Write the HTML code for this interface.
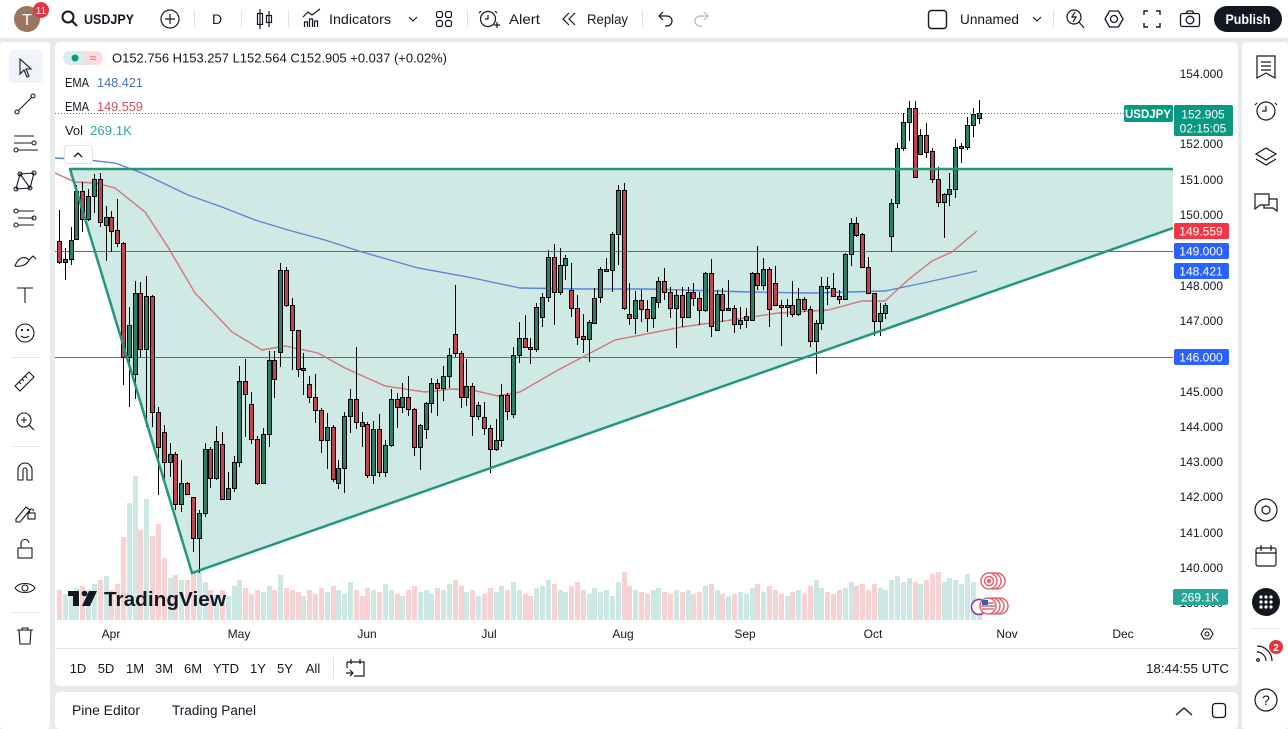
<!DOCTYPE html>
<html><head><meta charset="utf-8">
<style>
html,body{margin:0;padding:0;width:1288px;height:729px;overflow:hidden;background:#e8eaee;}
svg{position:absolute;left:0;top:0;font-family:"Liberation Sans",sans-serif;}
</style></head>
<body>
<svg width="1288" height="729" viewBox="0 0 1288 729" xmlns="http://www.w3.org/2000/svg">
<defs><clipPath id="cp"><rect x="55" y="42" width="1118" height="578"/></clipPath></defs>
<rect width="1288" height="729" fill="#e8eaee"/>
<rect x="0" y="0" width="1288" height="38" fill="#fff"/>
<rect x="0" y="42" width="50" height="687" fill="#fff" rx="4"/>
<rect x="55" y="42" width="1183" height="644" fill="#fff" rx="5"/>
<rect x="55" y="692" width="1183" height="37" fill="#fff" rx="5"/>
<rect x="1242" y="42" width="46" height="687" fill="#fff" rx="4"/>

<!-- TOP TOOLBAR -->
<circle cx="27" cy="19" r="13" fill="#9b7560"/>
<text x="27" y="25" font-size="16" fill="#fff" text-anchor="middle">T</text>
<circle cx="41" cy="10" r="8" fill="#e5343f"/>
<text x="41" y="14" font-size="10" fill="#fff" text-anchor="middle">11</text>
<g fill="none" stroke="#131722" stroke-width="1.5">
<circle cx="68" cy="17" r="5.5" stroke-width="2"/><line x1="72" y1="21" x2="77" y2="26" stroke-width="2"/>
<circle cx="170" cy="19" r="9" stroke-width="1.2"/><path d="M165 19h10M170 14v10" stroke-width="1.2"/>
<path d="M260 9v20M269 11v16" stroke-width="1.2"/>
<rect x="257.5" y="13.5" width="5" height="11" stroke-width="1.2"/><rect x="266.5" y="15.5" width="5" height="7" stroke-width="1.2"/>
<path d="M304.5 27v-5h3v5M309.5 27v-8h3v8M314.5 27v-6h3v6M303 17l5-5 4 3 8-6" stroke-width="1.2"/>
<path d="M409 17l4 4 4-4" stroke-width="1.1"/>
<rect x="436.5" y="11.5" width="6" height="6" rx="2" stroke-width="1.2"/><rect x="445.5" y="11.5" width="6" height="6" rx="2" stroke-width="1.2"/>
<rect x="436.5" y="20.5" width="6" height="6" rx="2" stroke-width="1.2"/><rect x="445.5" y="20.5" width="6" height="6" rx="2" stroke-width="1.2"/>
<circle cx="488" cy="19" r="7.5" stroke-width="1.2"/><path d="M488 15v4h-3M494 25h6M497 22v6M481 11l-2 2M495 11l2 2" stroke-width="1.2"/>
<path d="M575 13l-6 6 6 6M569 13l-6 6 6 6" stroke-width="1.2"/>
<path d="M660 16h7a5 5 0 0 1 0 10h-2M663 12l-4 4 4 4" stroke-width="1.2"/>
<path d="M707 16h-7a5 5 0 0 0 0 10h2M704 12l4 4-4 4" stroke="#b2b5be" stroke-width="1.2"/>
<rect x="928.5" y="10.5" width="18" height="18" rx="3" stroke-width="1.4"/>
<path d="M1033 17l4 4 4-4" stroke-width="1.1"/>
<circle cx="1074" cy="17" r="7" stroke-width="1.2"/><path d="M1079 22l5 6M1075 12l-3 5h4l-3 5" stroke-width="1.2"/>
<polygon points="1105,19 1109.5,11 1118.5,11 1123,19 1118.5,27 1109.5,27" stroke-width="1.3"/><circle cx="1114" cy="19" r="3.5" stroke-width="1.3"/>
<path d="M1144 15v-4h4M1156 11h4v4M1160 23v4h-4M1148 27h-4v-4" stroke-width="1.4"/>
<rect x="1180.5" y="13.5" width="19" height="13" rx="2" stroke-width="1.3"/><circle cx="1190" cy="20" r="3.8" stroke-width="1.3"/><path d="M1186 13.5l1.5-2.5h5l1.5 2.5" stroke-width="1.3"/>
</g>
<text x="84" y="24" font-size="14" font-weight="bold" fill="#131722" textLength="50" lengthAdjust="spacingAndGlyphs">USDJPY</text>
<text x="212" y="24" font-size="14" fill="#131722">D</text>
<text x="329" y="24" font-size="14" fill="#131722" textLength="62" lengthAdjust="spacingAndGlyphs">Indicators</text>
<text x="509" y="24" font-size="14" fill="#131722" textLength="31" lengthAdjust="spacingAndGlyphs">Alert</text>
<text x="587" y="24" font-size="14" fill="#131722" textLength="41" lengthAdjust="spacingAndGlyphs">Replay</text>
<text x="960" y="24" font-size="14" fill="#131722" textLength="59" lengthAdjust="spacingAndGlyphs">Unnamed</text>
<g stroke="#e0e3eb" stroke-width="1"><path d="M194.5 10v18M241.5 10v18M288.5 10v18M467.5 10v18M642.5 10v18M1053.5 10v18"/></g>
<rect x="1214" y="6" width="68" height="26" rx="13" fill="#131722"/>
<text x="1248" y="24" font-size="14" font-weight="bold" fill="#fff" text-anchor="middle" textLength="45" lengthAdjust="spacingAndGlyphs">Publish</text>

<!-- LEFT TOOLBAR -->
<rect x="9" y="50" width="34" height="33" rx="5" fill="#f0f3fa"/>
<g fill="none" stroke="#131722" stroke-width="1.1">
<path d="M20 59v15l4-4 3 7 2-1-3-7h5z"/>
<path d="M18 111l14-14"/><circle cx="17" cy="112" r="2"/><circle cx="33" cy="96" r="2"/>
<path d="M14 136h20M14 143h18M18 150h20"/><circle cx="34" cy="143" r="2"/><circle cx="16" cy="150" r="2"/>
<path d="M16 189l4-15 10 14 4-15M16 189l14-1M20 174l14-1"/><circle cx="16" cy="189" r="2"/><circle cx="20" cy="174" r="2"/><circle cx="30" cy="188" r="2"/><circle cx="34" cy="173" r="2"/>
<path d="M18 211h16M18 218h16M18 225h16"/><circle cx="16" cy="211" r="2"/><circle cx="34" cy="218" r="2"/><circle cx="16" cy="225" r="2"/>
<path d="M15 266c3-8 9-11 14-6-2 5-8 7-14 6zM29 260l4-4 3 3"/>
<path d="M17 288h16M25 288v15"/>
<circle cx="25" cy="333" r="9"/><path d="M21 336c2 2 6 2 8 0"/><circle cx="22" cy="330" r="0.6"/><circle cx="28" cy="330" r="0.6"/>
<path d="M15 386l14-14 5 5-14 14zM19 382l2 2M22 379l2 2M25 376l2 2"/>
<circle cx="24" cy="420" r="7"/><path d="M29 425l5 5M21 420h6M24 417v6"/>
<path d="M18 480v-10a7 7 0 0 1 14 0v10h-5v-10a2 2 0 0 0-4 0v10z"/>
<path d="M16 519l10-12 4 3-10 12h-4z"/><rect x="28" y="513" width="7" height="6"/><path d="M29.5 513v-2a2 2 0 0 1 4 0"/>
<rect x="18" y="548" width="14" height="10"/><path d="M21 548v-4a4 4 0 0 1 8-1"/>
<path d="M15 588c4-6 16-6 20 0-4 6-16 6-20 0z"/><circle cx="25" cy="588" r="3"/>
<path d="M17 630h16M22 630v-2h6v2M19 630l1 14h10l1-14"/>
</g>
<g stroke="#e0e3eb"><path d="M12 357.5h28M12 446.5h28M12 612.5h28"/></g>

<!-- RIGHT SIDEBAR -->
<g fill="none" stroke="#131722" stroke-width="1.2">
<path d="M1257 56h18v22l-9-5-9 5zM1261 62h10M1261 66h10M1261 70h10"/>
<circle cx="1266" cy="111" r="9"/><path d="M1266 106v5h-4M1257 103l-2 2M1275 103l2 2"/>
<path d="M1266 148l10 6-10 6-10-6zM1256 159l10 6 10-6"/>
<path d="M1255 194h14v11h-9l-5 4zM1269 199h8v12l-4-3h-9v-3"/>
<circle cx="1266" cy="510" r="11"/><circle cx="1266" cy="510" r="4"/>
<rect x="1256" y="548" width="20" height="18" rx="2"/><path d="M1256 553h20M1261 545v6M1271 545v6"/>
<path d="M1257 652a9 9 0 0 1 9 9M1257 646a15 15 0 0 1 15 15"/><circle cx="1258" cy="660" r="1.3"/>
<circle cx="1266" cy="700" r="11"/>
</g>
<circle cx="1266" cy="602" r="14" fill="#131722"/>
<g fill="#fff"><circle cx="1261" cy="597" r="1.6"/><circle cx="1266" cy="597" r="1.6"/><circle cx="1271" cy="597" r="1.6"/><circle cx="1261" cy="602" r="1.6"/><circle cx="1266" cy="602" r="1.6"/><circle cx="1271" cy="602" r="1.6"/><circle cx="1261" cy="607" r="1.6"/><circle cx="1266" cy="607" r="1.6"/><circle cx="1271" cy="607" r="1.6"/></g>
<path d="M1252 628.5h28" stroke="#e0e3eb"/>
<circle cx="1276" cy="647" r="7" fill="#e5343f"/>
<text x="1276" y="651" font-size="10" font-weight="bold" fill="#fff" text-anchor="middle">2</text>
<text x="1266" y="705" font-size="14" fill="#131722" text-anchor="middle">?</text>

<!-- CHART -->
<g clip-path="url(#cp)">
<polygon points="70,169 1173,169 1173,228 192,573" fill="#cfeae4"/>
<path d="M55 251.5H1173M55 357.5H1173" stroke="#3b6fc4" stroke-width="1"/>
<g id="vol"></g>
<polyline fill="none" stroke="#5b84d6" stroke-width="1.4" points="55,158 88,160 115,163 142,173 188,195 222,207 255,220 288,230 325,240 362,252 418,268 468,277 520,288 582,289 648,289 750,292 812,293 885,291 928,282 977,271"/>
<polyline fill="none" stroke="#d8727b" stroke-width="1.4" points="55,173 75,182 95,183 115,188 145,212 168,247 195,293 232,332 262,350 285,346 318,353 345,368 385,386 425,392 452,389 472,390 498,396 520,392 558,370 615,340 682,327 745,318 778,313 828,310 862,301 885,301 908,280 932,261 952,252 977,231"/>
<g id="cdl"></g>
<g fill="none" stroke="#22977e" stroke-width="2.5" stroke-linecap="round">
<path d="M70 169H1173M70 169L192 573L1173 228"/>
</g>
<path d="M55 113.5H1124" stroke="#089981" stroke-width="1" stroke-dasharray="1,2"/>
<!-- events -->
<g fill="#fff" stroke="#e3646f" stroke-width="1.5">
<circle cx="997" cy="581" r="8"/><circle cx="993" cy="581" r="8"/><circle cx="989" cy="581" r="8"/>
<circle cx="1000" cy="606" r="8"/><circle cx="996" cy="606" r="8"/><circle cx="992" cy="606" r="8"/>
</g>
<circle cx="989" cy="581" r="4.5" fill="none" stroke="#e3646f" stroke-width="1.5"/>
<circle cx="989" cy="581" r="2.2" fill="#e3646f"/>
<circle cx="979" cy="607" r="7.5" fill="#fff" stroke="#9c27b0" stroke-width="1.5"/>
<circle cx="988" cy="606" r="8" fill="#fff" stroke="#e3646f" stroke-width="1.5"/>
<path d="M982 603h12M981 606h14M982 609h12" stroke="#e3646f" stroke-width="1.5"/>
<rect x="982" y="600" width="6" height="5" fill="#3b5bb5"/>
<!-- logo -->
<g fill="#131722">
<rect x="68" y="591" width="11" height="5"/><rect x="73" y="591" width="6" height="15"/>
<circle cx="84.5" cy="593.5" r="2.8"/><polygon points="89,591 97,591 90,606 82,606"/>
</g>
<text x="104" y="606" font-size="20" font-weight="bold" fill="#131722" textLength="122" lengthAdjust="spacingAndGlyphs">TradingView</text>
</g>

<!-- LEGEND -->
<rect x="63" y="51" width="40" height="14" rx="7" fill="#fbdde1"/>
<path d="M70 51h13v14h-13a7 7 0 0 1 0-14z" fill="#d7f0ec"/>
<circle cx="75" cy="58" r="3.5" fill="#089981"/>
<text x="93" y="62" font-size="12" fill="#e0506a" text-anchor="middle">≈</text>
<text x="112" y="62.5" font-size="13" fill="#131722" textLength="335" lengthAdjust="spacingAndGlyphs">O152.756 H153.257 L152.564 C152.905 +0.037 (+0.02%)</text>
<text x="65" y="87" font-size="13" fill="#131722" textLength="24" lengthAdjust="spacingAndGlyphs">EMA</text>
<text x="97" y="87" font-size="13" fill="#4a6fc0" textLength="46" lengthAdjust="spacingAndGlyphs">148.421</text>
<text x="65" y="111" font-size="13" fill="#131722" textLength="24" lengthAdjust="spacingAndGlyphs">EMA</text>
<text x="97" y="111" font-size="13" fill="#d0505e" textLength="46" lengthAdjust="spacingAndGlyphs">149.559</text>
<text x="65" y="135" font-size="13" fill="#131722" textLength="18" lengthAdjust="spacingAndGlyphs">Vol</text>
<text x="90" y="135" font-size="13" fill="#3aa597" textLength="42" lengthAdjust="spacingAndGlyphs">269.1K</text>
<rect x="64.5" y="145.5" width="28" height="18" rx="3" fill="#fff" stroke="#e0e3eb"/>
<path d="M74 157l4-4 4 4" fill="none" stroke="#131722" stroke-width="1.3"/>

<!-- PRICE AXIS -->
<g font-size="12" fill="#131722" text-anchor="end">
<text x="1223" y="78">154.000</text>
<text x="1223" y="148">152.000</text>
<text x="1223" y="184">151.000</text>
<text x="1223" y="219">150.000</text>
<text x="1223" y="290">148.000</text>
<text x="1223" y="325">147.000</text>
<text x="1223" y="396">145.000</text>
<text x="1223" y="431">144.000</text>
<text x="1223" y="466">143.000</text>
<text x="1223" y="501">142.000</text>
<text x="1223" y="537">141.000</text>
<text x="1223" y="572">140.000</text>
<text x="1223" y="607">139.000</text>
</g>
<rect x="1174" y="223" width="55" height="16" rx="2" fill="#f23645"/>
<rect x="1174" y="243" width="55" height="16" rx="2" fill="#2962ff"/>
<rect x="1174" y="263" width="55" height="16" rx="2" fill="#2962ff"/>
<rect x="1174" y="349" width="55" height="16" rx="2" fill="#2962ff"/>
<rect x="1124" y="105" width="49" height="17" rx="2" fill="#089981"/>
<rect x="1174" y="105" width="59" height="31" rx="2" fill="#089981"/>
<rect x="1173" y="589" width="55" height="16" rx="2" fill="#26a69a"/>
<g font-size="12" fill="#fff" text-anchor="middle">
<text x="1201" y="235.5">149.559</text>
<text x="1201" y="255.5">149.000</text>
<text x="1201" y="275.5">148.421</text>
<text x="1201" y="361.5">146.000</text>
<text x="1148" y="118" font-weight="bold" font-size="11.5">USDJPY</text>
<text x="1203" y="118.5">152.905</text>
<text x="1203" y="132.5">02:15:05</text>
<text x="1200" y="601.5">269.1K</text>
</g>

<!-- TIME AXIS -->
<g font-size="12" fill="#131722" text-anchor="middle">
<text x="111" y="638">Apr</text>
<text x="239" y="638">May</text>
<text x="367" y="638">Jun</text>
<text x="489" y="638">Jul</text>
<text x="623" y="638">Aug</text>
<text x="745" y="638">Sep</text>
<text x="873" y="638">Oct</text>
<text x="1007" y="638">Nov</text>
<text x="1123" y="638">Dec</text>
</g>
<polygon points="1201,634 1204,629 1210,629 1213,634 1210,639 1204,639" fill="none" stroke="#131722" stroke-width="1.1"/>
<circle cx="1207" cy="634" r="2" fill="none" stroke="#131722" stroke-width="1.1"/>
<path d="M55 648.5H1238" stroke="#e0e3eb"/>

<!-- BOTTOM BAR -->
<g font-size="13" fill="#131722" text-anchor="middle">
<text x="78" y="673">1D</text><text x="106" y="673">5D</text><text x="135" y="673">1M</text>
<text x="164" y="673">3M</text><text x="193" y="673">6M</text><text x="226" y="673">YTD</text>
<text x="258" y="673">1Y</text><text x="285" y="673">5Y</text><text x="313" y="673">All</text>
</g>
<path d="M333.5 657v22" stroke="#e0e3eb"/>
<g fill="none" stroke="#131722" stroke-width="1.2">
<path d="M347 662h17v14h-10M347 662v6M351 659v5M360 659v5M346 673h7M350 670l3 3-3 3"/>
</g>
<text x="1229" y="673" font-size="13" fill="#131722" text-anchor="end" textLength="83" lengthAdjust="spacingAndGlyphs">18:44:55 UTC</text>

<!-- BOTTOM PANEL -->
<text x="72" y="715" font-size="13.5" fill="#131722" textLength="68" lengthAdjust="spacingAndGlyphs">Pine Editor</text>
<text x="172" y="715" font-size="13.5" fill="#131722" textLength="84" lengthAdjust="spacingAndGlyphs">Trading Panel</text>
<path d="M1176 715l8-7 8 7" fill="none" stroke="#131722" stroke-width="1.3"/>
<rect x="1212.5" y="703.5" width="13" height="14" rx="3" fill="none" stroke="#131722" stroke-width="1.3"/>
</svg>

<script>
var D=[[0,241,262,210,264],[1,259,262,248,280],[1,240,259,227,265],[1,191,239,185,240],[0,191,219,182,232],[1,196,219,189,221],[1,179,196,174,213],[0,179,222,173,227],[1,217,225,206,261],[0,217,231,211,252],
[0,230,243,199,247],[0,243,357,242,385],[1,325,357,307,407],[1,293,374,281,399],[0,293,349,282,357],[1,296,349,276,427],[0,296,412,295,427],[0,412,447,407,495],[0,432,462,425,480],[1,454,462,443,477],
[0,454,504,452,510],[1,483,504,460,512],[0,483,494,482,495],[0,497,538,497,552],[1,513,538,510,573],[1,449,513,443,517],[0,449,478,447,488],[1,441,478,426,480],[0,444,499,432,500],[1,488,499,472,500],
[1,462,488,456,492],[1,381,462,366,467],[0,381,394,359,437],[0,404,439,392,444],[0,439,483,436,485],[1,434,483,428,484],[1,360,434,351,447],[0,360,379,351,398],[1,270,352,263,367],[0,270,305,267,307],
[0,305,330,298,370],[0,330,369,330,377],[1,368,370,353,395],[0,384,397,376,403],[0,397,410,374,423],[0,410,440,408,453],[1,427,440,413,469],[0,427,479,425,482],[1,468,483,460,489],[1,416,468,412,493],
[1,399,416,389,433],[0,399,422,347,429],[0,422,426,412,447],[0,424,475,422,478],[1,429,475,421,484],[0,429,472,414,477],[1,445,472,440,477],[1,399,445,389,447],[0,399,407,393,428],[1,397,407,383,413],
[0,397,409,376,416],[0,409,447,408,456],[1,425,447,424,470],[1,403,429,402,439],[1,383,403,378,413],[0,383,388,379,416],[1,376,388,366,401],[1,355,376,348,388],[0,334,353,285,357],[0,353,397,351,408],
[1,386,397,359,406],[0,386,416,383,436],[1,405,416,402,420],[0,417,428,402,435],[0,428,449,425,473],[1,440,449,419,451],[1,395,440,384,447],[0,395,411,393,420],[1,355,414,347,418],[1,338,355,322,363],
[0,338,347,315,348],[0,347,349,338,364],[1,307,349,303,352],[1,297,317,293,327],[1,257,297,250,302],[0,257,292,244,325],[1,265,292,248,295],[1,258,265,255,280],[0,290,308,263,317],[0,308,337,295,345],
[0,336,339,314,353],[1,322,339,320,362],[1,298,323,288,324],[1,269,297,267,303],[1,269,271,258,271],[1,234,270,232,292],[1,190,234,185,265],[0,190,308,183,310],[0,314,318,283,325],[1,300,318,291,334],
[0,300,309,290,322],[0,309,318,300,332],[1,297,318,297,328],[1,281,302,277,308],[0,281,292,268,300],[0,292,308,287,318],[1,295,308,290,348],[0,295,317,287,327],[1,292,317,287,318],[0,292,298,283,306],
[0,298,310,292,325],[1,273,310,272,312],[0,273,326,259,337],[1,294,330,290,331],[0,294,310,288,322],[1,308,310,280,311],[0,308,324,305,333],[1,320,324,307,329],[1,316,320,308,328],[1,273,320,272,320],
[0,273,285,246,290],[1,269,285,258,290],[0,269,309,267,327],[0,283,305,266,306],[0,305,307,300,346],[1,305,307,299,317],[0,305,314,281,317],[1,299,314,288,316],[0,299,309,297,312],[0,309,341,306,347],
[1,323,341,320,374],[1,286,323,277,330],[0,286,288,277,305],[0,288,296,273,297],[0,296,299,290,304],[1,254,299,253,300],[1,223,254,218,266],[0,223,235,217,237],[0,234,267,233,268],[0,267,293,257,294],
[0,293,321,293,336],[1,313,321,303,336],[1,305,313,303,319],[1,203,236,199,252],[1,148,203,143,208],[1,122,148,113,151],[1,108,122,101,141],[0,108,177,101,177],[1,135,154,129,155],[0,135,152,123,158],
[0,151,179,148,183],[0,179,202,167,207],[1,194,202,193,238],[1,189,194,173,206],[1,147,189,139,198],[1,146,148,143,163],[1,125,147,117,150],[1,114,125,108,137],[1,113,118,100,124]];
var VH=[30,26,28,32,34,30,36,40,44,30,
36,83,117,144,90,121,84,96,62,42,
45,40,40,48,50,38,30,26,30,24,
34,40,32,26,30,28,34,30,45,32,
30,28,24,30,26,32,28,34,30,26,
38,30,24,32,30,28,36,30,26,24,
30,34,28,30,26,32,30,36,40,34,
28,30,24,26,32,28,34,30,38,30,
26,24,32,34,40,36,30,28,34,38,
30,26,32,28,30,24,38,48,34,30,
28,26,30,32,28,26,30,28,30,26,
28,34,36,30,26,24,26,28,26,32,
36,28,34,30,26,24,28,30,26,34,
40,32,28,26,30,32,38,34,36,30,
36,32,30,40,44,38,42,38,36,40,
46,48,38,42,40,36,46,38,22];
var c='',v='';
for(var i=0;i<D.length;i++){
 var d=D[i],g=d[0],cx=Math.round(59+i*5.82),h=VH[i]||28;
 v+='<rect x="'+(cx-2)+'" y="'+(620-h)+'" width="5" height="'+h+'" fill="'+(g?'#cce8e4':'#f8d2d2')+'"/>';
 c+='<line x1="'+(cx+0.5)+'" y1="'+d[3]+'" x2="'+(cx+0.5)+'" y2="'+d[4]+'" stroke="#000" stroke-width="1"/>';
 var bh=Math.max(1,d[2]-d[1]);
 c+='<rect x="'+(cx-1.5)+'" y="'+(d[1]+0.5)+'" width="4" height="'+bh+'" fill="'+(g?'#2a806a':'#c0444e')+'" stroke="#000" stroke-width="1"/>';
}
document.getElementById('vol').innerHTML=v;
document.getElementById('cdl').innerHTML=c;
</script>
</body></html>
